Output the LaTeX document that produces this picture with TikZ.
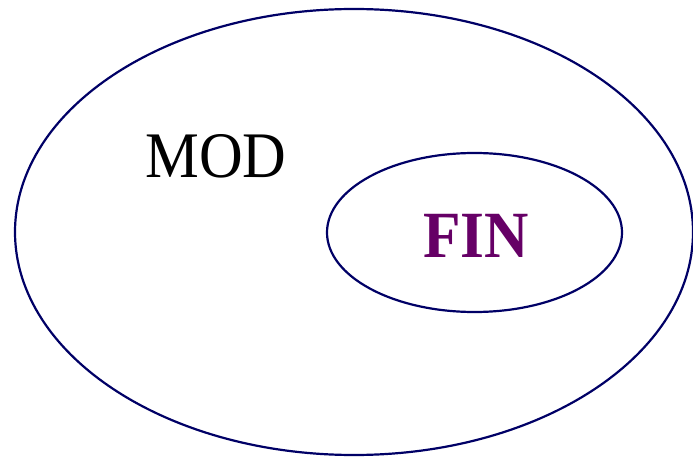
\documentclass[tikz,border=0pt]{standalone}
\usepackage{fontspec}
\setmainfont{Liberation Serif}
\definecolor{navy}{RGB}{0,0,102}
\definecolor{finpurple}{RGB}{102,0,102}
\begin{document}
\begin{tikzpicture}[x=1pt,y=-1pt,
  setline/.style={draw=navy,line width=2.2pt},
  lbl/.style={inner sep=0pt,anchor=base,xscale=0.93}]
\useasboundingbox (0,0) rectangle (693,457);
\draw[setline] (354,232) ellipse [x radius=339, y radius=223];
\draw[setline] (474.5,232.5) ellipse [x radius=147.5, y radius=79.5];
\node[lbl,font=\fontsize{65}{70}\selectfont] (mod) at (216,178) {MOD};
\node[lbl,font=\fontsize{66}{70}\selectfont\bfseries,text=finpurple] (fin) at (476,257) {FIN};
\end{tikzpicture}
\end{document}
